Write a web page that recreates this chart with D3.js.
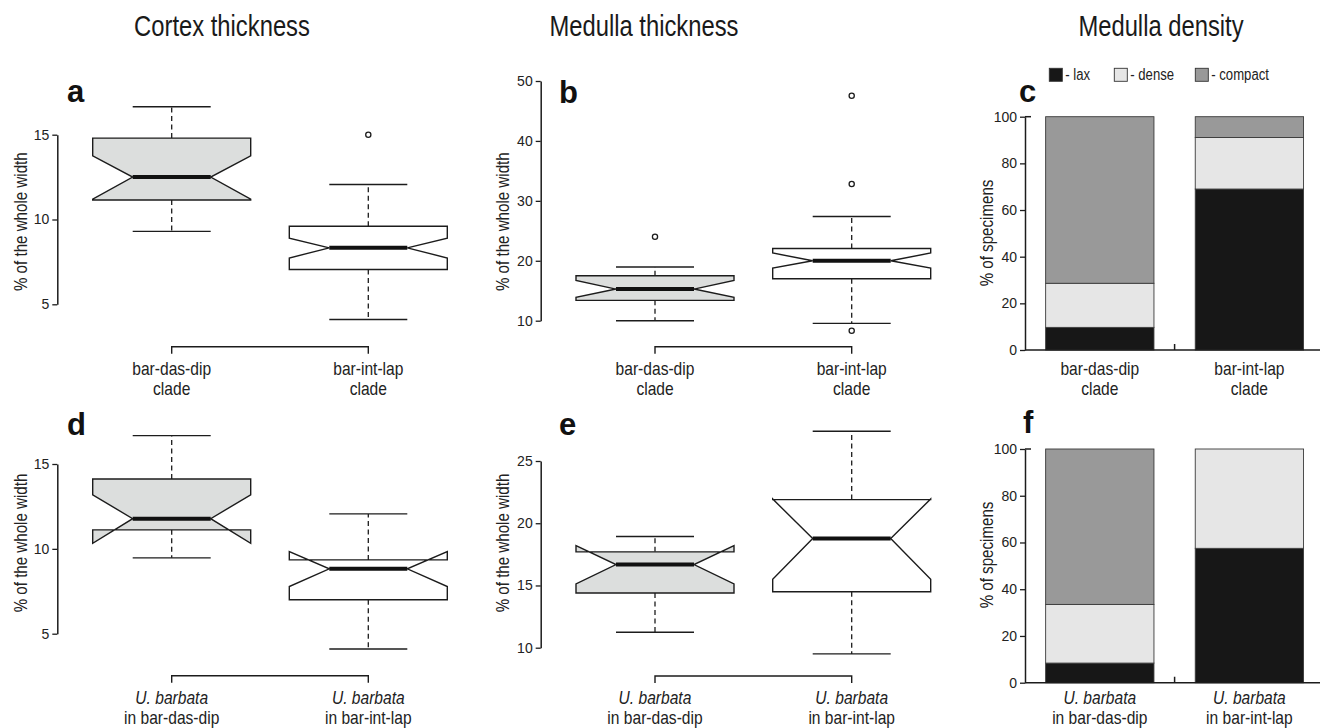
<!DOCTYPE html>
<html>
<head>
<meta charset="utf-8">
<script src="https://cdn.jsdelivr.net/npm/d3@7"></script>
<style>
  body { margin: 0; background: #fff; }
  svg { display: block; font-family: 'Liberation Sans', Arial, sans-serif; }
</style>
</head>
<body>
<script>
// category labels (two lines each, first line of the U. barbata ones is italic)
const cladeLabels = [['bar-das-dip', 'clade'], ['bar-int-lap', 'clade']];
const barbataLabels = [['U. barbata', 'in bar-das-dip'], ['U. barbata', 'in bar-int-lap']];

// box stats: whiskers, quartiles, median, notch, outliers
const cortexClade = [
  {lo: 9.3, q1: 11.15, med: 12.5, q3: 14.8, hi: 16.65, nlo: 11.2, nhi: 13.75, out: []},
  {lo: 4.1, q1: 7.05, med: 8.33, q3: 9.6, hi: 12.06, nlo: 7.73, nhi: 8.9, out: [15.0]}
];
const medullaClade = [
  {lo: 10.0, q1: 13.4, med: 15.28, q3: 17.5, hi: 18.95, nlo: 13.9, nhi: 16.7, out: [24.0]},
  {lo: 9.55, q1: 17.0, med: 20.0, q3: 22.05, hi: 27.4, nlo: 18.8, nhi: 21.3, out: [47.55, 32.8, 8.33]}
];
const cortexBarbata = [
  {lo: 9.47, q1: 11.12, med: 11.78, q3: 14.12, hi: 16.67, nlo: 10.33, nhi: 13.18, out: []},
  {lo: 4.1, q1: 7.0, med: 8.82, q3: 9.35, hi: 12.06, nlo: 7.78, nhi: 9.84, out: []}
];
const medullaBarbata = [
  {lo: 11.24, q1: 14.4, med: 16.68, q3: 17.7, hi: 18.93, nlo: 15.13, nhi: 18.2, out: []},
  {lo: 9.5, q1: 14.5, med: 18.77, q3: 21.9, hi: 27.39, nlo: 15.5, nhi: 21.95, out: []}
];

// medulla density, % of specimens
const densityKeys = ['lax', 'dense', 'compact'];
const densityColors = ['#171717', '#e6e6e6', '#999999'];
const laxClade = [9.7, 69.0];
const denseClade = [18.9, 22.1];
const compactClade = [71.4, 8.9];
const laxBarbata = [8.4, 57.5];
const denseBarbata = [25.1, 42.5];
const compactBarbata = [66.5, 0];

const cortexTicks = [5, 10, 15];
const medullaCladeTicks = [10, 20, 30, 40, 50];
const medullaBarbataTicks = [10, 15, 20, 25];
const percentTicks = [0, 20, 40, 60, 80, 100];

const boxFills = ['#dcdedd', '#ffffff'];
const ink = '#1c1c1c';

const svg = d3.select('body').append('svg')
  .attr('width', 1320).attr('height', 728);

// squeeze text horizontally, the figure uses a narrow grotesque
function narrow(sel, f) {
  sel.each(function() {
    const len = this.getComputedTextLength();
    d3.select(this).attr('textLength', len * f).attr('lengthAdjust', 'spacingAndGlyphs');
  });
  return sel;
}

// column titles
[['Cortex thickness', 222], ['Medulla thickness', 644], ['Medulla density', 1161]].forEach(function(t) {
  narrow(svg.append('text')
    .attr('x', t[1]).attr('y', 36)
    .attr('text-anchor', 'middle')
    .style('font-size', '29px').style('fill', '#1a1a1a')
    .text(t[0]), 0.82);
});

function letter(ch, x, y) {
  svg.append('text').attr('x', x).attr('y', y)
    .style('font-size', '31px').style('font-weight', 'bold').style('fill', '#111')
    .text(ch);
}

function yTitle(txt, x, y) {
  narrow(svg.append('text')
    .attr('transform', 'translate(' + x + ',' + y + ') rotate(-90)')
    .attr('text-anchor', 'middle')
    .style('font-size', '18px').style('fill', '#222')
    .text(txt), 0.84);
}

function yAxis(y, ticks, x) {
  const g = svg.append('g')
    .attr('transform', 'translate(' + x + ',0)')
    .call(d3.axisLeft(y).tickValues(ticks).tickSize(5).tickSizeOuter(0).tickPadding(3));
  g.select('.domain').attr('stroke', ink).attr('stroke-width', 1.5);
  g.selectAll('.tick line').attr('stroke', ink).attr('stroke-width', 1.3);
  g.selectAll('.tick text')
    .style('font-family', "'Liberation Sans', Arial, sans-serif")
    .style('font-size', '14px').attr('fill', '#222');
  return g;
}

function catLabels(labels, xs, y1, y2, italicFirst) {
  labels.forEach(function(lines, i) {
    narrow(svg.append('text').attr('x', xs[i]).attr('y', y1)
      .attr('text-anchor', 'middle')
      .style('font-size', '19px').style('fill', '#222')
      .style('font-style', italicFirst ? 'italic' : 'normal')
      .text(lines[0]), 0.82);
    narrow(svg.append('text').attr('x', xs[i]).attr('y', y2)
      .attr('text-anchor', 'middle')
      .style('font-size', '19px').style('fill', '#222')
      .text(lines[1]), 0.82);
  });
}

// notched boxplot panel
function boxPanel(p) {
  const y = d3.scaleLinear().domain(p.domain).range(p.range);
  const x = d3.scalePoint().domain([0, 1]).range(p.centers);
  const hw = 79, cw = 39;

  yAxis(y, p.ticks, p.axisX);
  yTitle('% of the whole width', p.titleX, p.titleY);
  letter(p.letter, p.letterX, p.letterY);

  const g = svg.append('g');
  const box = g.selectAll('g.box').data(p.stats).enter().append('g');

  // whiskers
  box.append('line')
    .attr('x1', (d, i) => x(i)).attr('x2', (d, i) => x(i))
    .attr('y1', d => y(d.q3)).attr('y2', d => y(d.hi));
  box.append('line')
    .attr('x1', (d, i) => x(i)).attr('x2', (d, i) => x(i))
    .attr('y1', d => y(d.q1)).attr('y2', d => y(d.lo));
  box.selectAll('line').attr('stroke', ink).attr('stroke-width', 1.3)
    .attr('stroke-dasharray', '5,3.5');

  // caps
  ['hi', 'lo'].forEach(function(k) {
    box.append('line')
      .attr('x1', (d, i) => x(i) - cw).attr('x2', (d, i) => x(i) + cw)
      .attr('y1', d => y(d[k])).attr('y2', d => y(d[k]))
      .attr('stroke', ink).attr('stroke-width', 1.4);
  });

  // notched box
  box.append('path')
    .attr('d', function(d, i) {
      const c = x(i), l = c - hw, r = c + hw;
      return d3.line()([
        [l, y(d.q3)], [r, y(d.q3)], [r, y(d.nhi)], [c + cw, y(d.med)],
        [r, y(d.nlo)], [r, y(d.q1)], [l, y(d.q1)], [l, y(d.nlo)],
        [c - cw, y(d.med)], [l, y(d.nhi)]
      ]) + 'Z';
    })
    .attr('fill', (d, i) => boxFills[i])
    .attr('stroke', ink).attr('stroke-width', 1.4)
    .attr('stroke-linejoin', 'miter');

  // median
  box.append('line')
    .attr('x1', (d, i) => x(i) - cw).attr('x2', (d, i) => x(i) + cw)
    .attr('y1', d => y(d.med)).attr('y2', d => y(d.med))
    .attr('stroke', '#111').attr('stroke-width', 4);

  // outliers
  box.each(function(d, i) {
    d3.select(this).selectAll('circle').data(d.out).enter().append('circle')
      .attr('cx', x(i)).attr('cy', v => y(v)).attr('r', 2.6)
      .attr('fill', '#fff').attr('stroke', ink).attr('stroke-width', 1.3);
  });

  // bracket joining the two groups
  g.append('path')
    .attr('d', 'M' + x(0) + ',' + (p.bracketY + 7) + 'V' + p.bracketY +
      'H' + x(1) + 'V' + (p.bracketY + 7))
    .attr('fill', 'none').attr('stroke', ink).attr('stroke-width', 1.4);

  catLabels(p.labels, [x(0), x(1)], p.labelY, p.labelY + 20, p.italic);
}

// stacked bar panel
function barPanel(p) {
  const y = d3.scaleLinear().domain([0, 100]).range(p.range);
  const x = d3.scaleBand().domain([0, 1]).range([1025, 1324.2])
    .paddingInner(0.276).paddingOuter(0.138);
  const rows = [0, 1].map(function(i) {
    return {i: i, lax: p.lax[i], dense: p.dense[i], compact: p.compact[i]};
  });
  const series = d3.stack().keys(densityKeys)(rows);

  svg.append('g').selectAll('g').data(series).enter().append('g')
    .attr('fill', (s, k) => densityColors[k])
    .selectAll('rect').data(s => s).enter().append('rect')
    .filter(d => d[1] - d[0] > 0)
    .attr('x', d => x(d.data.i)).attr('width', x.bandwidth())
    .attr('y', d => y(d[1])).attr('height', d => y(d[0]) - y(d[1]))
    .attr('stroke', '#3a3a3a').attr('stroke-width', 0.9);

  const g = yAxis(y, percentTicks, 1025);
  // small tick on the right of the top end
  g.append('line').attr('x1', 0).attr('x2', 6)
    .attr('y1', y(100)).attr('y2', y(100))
    .attr('stroke', ink).attr('stroke-width', 1.5);

  // base line with a tick between the bars
  const mid = x(1) - x.step() * x.paddingInner() / 2;
  svg.append('path')
    .attr('d', 'M1025,' + y(0) + 'H1320M' + mid + ',' + y(0) + 'V' + (y(0) - 6))
    .attr('fill', 'none').attr('stroke', ink).attr('stroke-width', 1.5);

  yTitle('% of specimens', 993, p.titleY);
  letter(p.letter, p.letterX, p.letterY);
  const cx = [0, 1].map(i => x(i) + x.bandwidth() / 2);
  catLabels(p.labels, cx, p.labelY, p.labelY + 20, p.italic);
}

boxPanel({
  stats: cortexClade, domain: [5, 15], range: [304.3, 134.7], ticks: cortexTicks,
  centers: [171.7, 368.3], axisX: 57.3, titleX: 26.5, titleY: 221.7,
  letter: 'a', letterX: 67, letterY: 101.7, bracketY: 346.7,
  labels: cladeLabels, labelY: 375, italic: false
});
boxPanel({
  stats: medullaClade, domain: [10, 50], range: [320.7, 81], ticks: medullaCladeTicks,
  centers: [655, 851.7], axisX: 540.7, titleX: 509, titleY: 221.7,
  letter: 'b', letterX: 559, letterY: 102.5, bracketY: 346.7,
  labels: cladeLabels, labelY: 375, italic: false
});
boxPanel({
  stats: cortexBarbata, domain: [5, 15], range: [633.7, 464], ticks: cortexTicks,
  centers: [171.7, 368.3], axisX: 57.3, titleX: 26.5, titleY: 543,
  letter: 'd', letterX: 67, letterY: 435, bracketY: 675.7,
  labels: barbataLabels, labelY: 704, italic: true
});
boxPanel({
  stats: medullaBarbata, domain: [10, 25], range: [647.7, 461], ticks: medullaBarbataTicks,
  centers: [655, 851.7], axisX: 540.7, titleX: 509, titleY: 543,
  letter: 'e', letterX: 559, letterY: 435, bracketY: 676,
  labels: barbataLabels, labelY: 704, italic: true
});

barPanel({
  lax: laxClade, dense: denseClade, compact: compactClade, range: [350, 116.7],
  titleY: 233, letter: 'c', letterX: 1019, letterY: 101.7,
  labels: cladeLabels, labelY: 375, italic: false
});
barPanel({
  lax: laxBarbata, dense: denseBarbata, compact: compactBarbata, range: [682.7, 449],
  titleY: 555, letter: 'f', letterX: 1023, letterY: 433,
  labels: barbataLabels, labelY: 704, italic: true
});

// legend above panel c
const legendX = [1049.3, 1114.3, 1195.3];
const legend = svg.append('g').selectAll('g').data(densityKeys).enter().append('g')
  .attr('transform', (d, i) => 'translate(' + legendX[i] + ',68.3)');
legend.append('rect').attr('width', 13).attr('height', 13)
  .attr('fill', (d, i) => densityColors[i])
  .attr('stroke', '#333').attr('stroke-width', 0.9);
legend.append('text').attr('x', 16).attr('y', 11.8)
  .style('font-size', '16px').style('fill', '#222')
  .text(d => '- ' + d)
  .call(narrow, 0.82);
</script>
</body>
</html>
